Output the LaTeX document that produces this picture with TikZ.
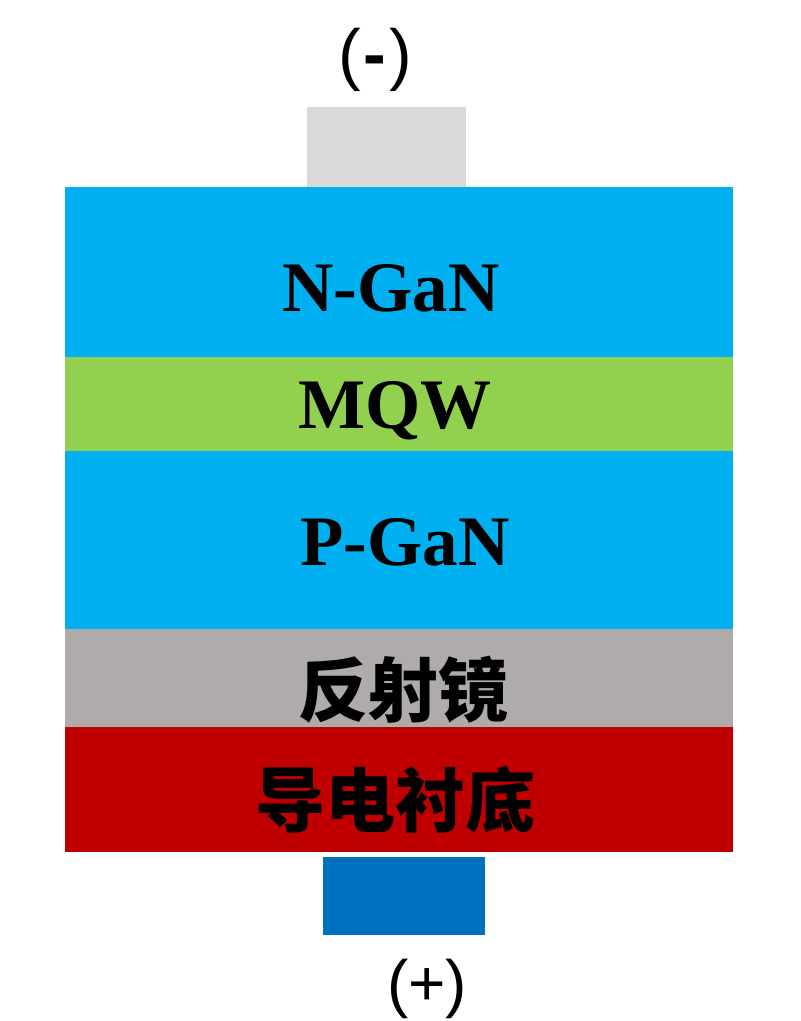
\documentclass[tikz,border=0pt]{standalone}
\usepackage{fontspec}
\setmainfont{Liberation Serif}
\setsansfont{Liberation Sans}
\newfontfamily\cjk{Noto Sans CJK SC}
\definecolor{gan}{RGB}{0,176,240}
\definecolor{mqw}{RGB}{146,208,80}
\definecolor{mirror}{RGB}{175,171,171}
\definecolor{subst}{RGB}{192,0,0}
\definecolor{topc}{RGB}{217,217,217}
\definecolor{botc}{RGB}{0,112,192}
\begin{document}
\begin{tikzpicture}[x=0.5pt,y=-0.5pt,
  lbl/.style={font=\bfseries\fontsize{35.5}{40}\selectfont,anchor=base},
  zh/.style={font=\cjk\bfseries\fontsize{35}{40}\selectfont},
  pol/.style={font=\sffamily\fontsize{34}{40}\selectfont}]
\useasboundingbox (0,0) rectangle (800,1021);
% contacts and layers
\fill [topc] (307,107) rectangle (466,188);
\fill [gan] (65,187) rectangle (733,357);
\fill [mqw] (65,357) rectangle (733,451);
\fill [gan] (65,451) rectangle (733,629);
\fill [mirror] (65,629) rectangle (733,727);
\fill [subst] (65,727) rectangle (733,852);
\fill [botc] (323,857) rectangle (485,935);
% labels
\node [pol] (minus) at (375,60) {(\kern1.5pt\textbf{-}\kern1.5pt)};
\node [lbl] (ngan) at (391,312) {N-GaN};
\node [lbl] (mqwl) at (395,428) {MQW};
\node [lbl] (pgan) at (405,565) {P-GaN};
\node [zh] (mirr) at (403,690) {反射镜};
\node [zh] (sub) at (395,800) {导电衬底};
\node [pol,font=\sffamily\fontsize{32}{40}\selectfont] (plus) at (427,989) {(+)};
\end{tikzpicture}
\end{document}
